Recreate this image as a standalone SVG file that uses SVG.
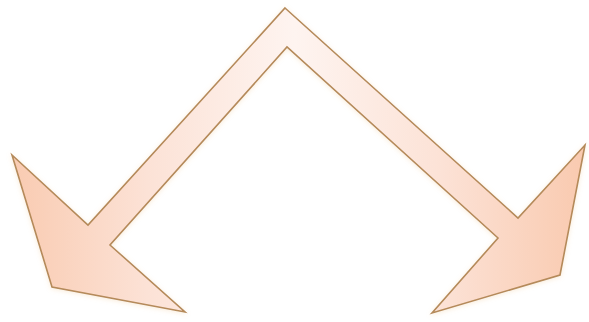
<svg xmlns="http://www.w3.org/2000/svg" width="589" height="322" viewBox="0 0 589 322">
<defs>
<linearGradient id="fillGrad" x1="0" y1="0" x2="589" y2="0" gradientUnits="userSpaceOnUse">
<stop offset="0" stop-color="#f9c9ae"/>
<stop offset="0.25" stop-color="#fce2d6"/>
<stop offset="0.5" stop-color="#fef4f0"/>
<stop offset="0.75" stop-color="#fce2d6"/>
<stop offset="1" stop-color="#f9c9ae"/>
</linearGradient>
<filter id="glow" x="-10%" y="-10%" width="120%" height="120%">
<feGaussianBlur in="SourceAlpha" stdDeviation="2.5"/>
<feOffset dx="0" dy="1" result="b"/>
<feFlood flood-color="#f5d9b5" flood-opacity="0.5"/>
<feComposite in2="b" operator="in" result="s"/>
<feMerge><feMergeNode in="s"/><feMergeNode in="SourceGraphic"/></feMerge>
</filter>
<style>
.shape{fill:url(#fillGrad);stroke:#b58a5a;stroke-width:1.6;stroke-linejoin:miter;}
</style>
</defs>
<rect width="589" height="322" fill="#ffffff"/>
<g id="bent-arrow" filter="url(#glow)">
<path class="shape" d="M285,8 L518,218 L585,145 L560,275 L432,313 L498,238 L287,47 L110,245 L185,312 L52,287 L12,155 L88,225 Z"/>
</g>
</svg>
